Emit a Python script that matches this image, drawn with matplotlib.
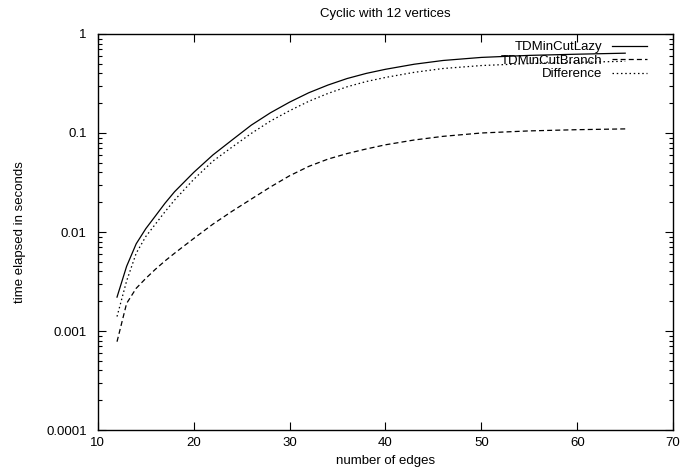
import matplotlib
matplotlib.use("Agg")
import matplotlib.pyplot as plt
from matplotlib.ticker import LogLocator, FixedLocator, NullFormatter

plt.rcParams['font.family'] = ['Liberation Sans', 'DejaVu Sans']

edges = [12, 13, 14, 15, 16, 17, 18, 20, 22, 24, 26, 28, 30, 32, 34, 36, 38, 40, 43, 46, 50, 55, 60, 65]
lazy = [0.0022, 0.0045, 0.0076, 0.0108, 0.0145, 0.0195, 0.0255, 0.040, 0.060, 0.085, 0.120,
        0.160, 0.205, 0.255, 0.305, 0.355, 0.400, 0.440, 0.495, 0.540, 0.580, 0.608, 0.625, 0.640]
branch = [0.00078, 0.0019, 0.0027, 0.0034, 0.0042, 0.0051, 0.0061, 0.0086, 0.0120, 0.0162, 0.0215,
          0.0285, 0.0370, 0.0460, 0.0545, 0.0620, 0.0690, 0.0760, 0.0850, 0.0925, 0.1000, 0.1050,
          0.1080, 0.1100]
difference = [0.0014, 0.0032, 0.0061, 0.0090, 0.0120, 0.0160, 0.0210, 0.034, 0.052, 0.072, 0.099,
              0.132, 0.168, 0.209, 0.251, 0.293, 0.331, 0.364, 0.410, 0.448, 0.480, 0.503, 0.517, 0.530]

xticks = [10, 20, 30, 40, 50, 60, 70]
yticks = [0.0001, 0.001, 0.01, 0.1, 1]
ytick_labels = ['0.0001', '0.001', '0.01', '0.1', '1']

fig = plt.figure(figsize=(6.89, 4.76), dpi=100)
ax = fig.add_axes([0.142, 0.0966, 0.835, 0.832])

ax.plot(edges, lazy, color='black', lw=0.9, ls='-', label='TDMinCutLazy')
ax.plot(edges, branch, color='black', lw=0.9, ls=(0, (4, 2.5)), label='TDMinCutBranch')
ax.plot(edges, difference, color='black', lw=0.9, ls=(0, (1.2, 2.2)), label='Difference')

ax.set_yscale('log')
ax.set_xlim(10, 70)
ax.set_ylim(0.0001, 1)
ax.xaxis.set_major_locator(FixedLocator(xticks))
ax.set_xticklabels([str(t) for t in xticks])
ax.yaxis.set_major_locator(FixedLocator(yticks))
ax.set_yticklabels(ytick_labels)
ax.yaxis.set_minor_locator(LogLocator(base=10, subs=range(2, 10)))
ax.yaxis.set_minor_formatter(NullFormatter())

ax.tick_params(which='both', direction='in', top=True, right=True, labelsize=9.5, width=0.8)
ax.tick_params(which='major', length=6)
ax.tick_params(which='minor', length=3)
ax.tick_params(axis='x', which='major', pad=5)
ax.tick_params(axis='y', which='major', pad=8)
for s in ax.spines.values():
    s.set_linewidth(1.0)

ax.set_title('Cyclic with 12 vertices', fontsize=9.5, pad=12)
ax.set_xlabel('number of edges', fontsize=9.5, labelpad=4)
ax.set_ylabel('time elapsed in seconds', fontsize=9.5)
ax.yaxis.set_label_coords(-0.125, 0.5)

ax.legend(loc='upper right', bbox_to_anchor=(0.955, 0.982), frameon=False, markerfirst=False,
          fontsize=9.5, handlelength=2.7, handletextpad=0.7, labelspacing=0.1,
          borderpad=0, borderaxespad=0)

fig.savefig('out.png', dpi=100)
